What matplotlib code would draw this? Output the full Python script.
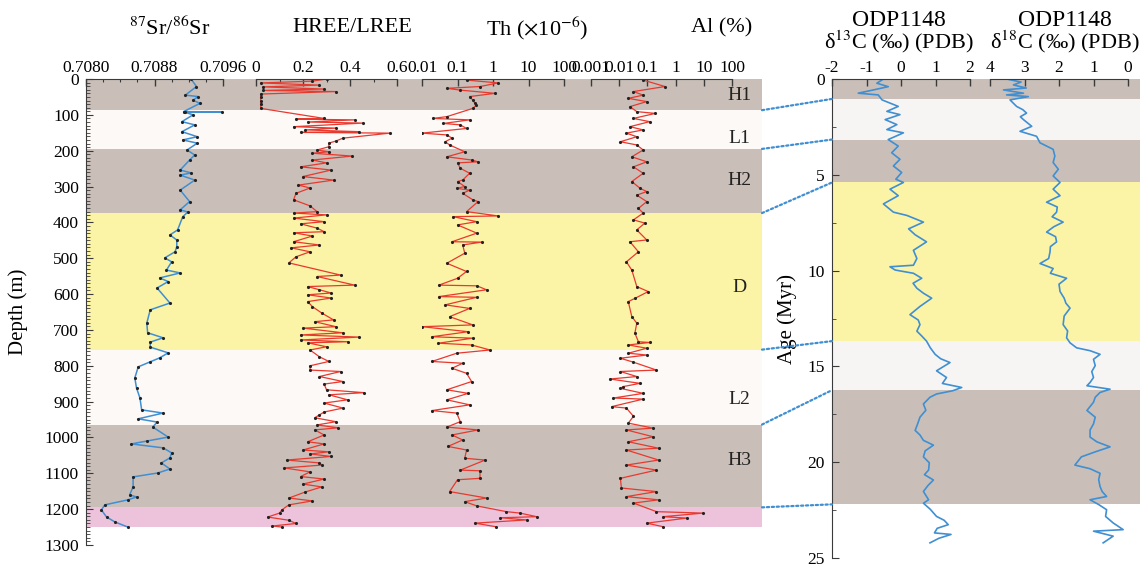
import matplotlib
matplotlib.use("Agg")
import matplotlib.pyplot as plt
from matplotlib.patches import ConnectionPatch
from matplotlib import transforms
from matplotlib.ticker import MultipleLocator, LogLocator, NullFormatter

plt.rcParams['font.family'] = ['Liberation Serif', 'DejaVu Serif']
plt.rcParams['mathtext.fontset'] = 'stix'
plt.rcParams['axes.unicode_minus'] = False

# ---- data ----
sr_depth = [1, 21, 45, 49, 59, 68, 91, 92, 93, 100,
            119, 128, 147, 161, 170, 179, 198, 212, 226, 254,
            262, 268, 282, 310, 342, 365, 371, 384, 421, 435,
            449, 468, 482, 499, 510, 533, 541, 555, 565, 583,
            625, 644, 681, 708, 722, 734, 748, 764, 778, 789,
            803, 834, 862, 890, 923, 932, 948, 957, 971, 999,
            1010, 1018, 1029, 1043, 1057, 1071, 1088, 1099, 1110, 1138,
            1160, 1166, 1174, 1188, 1202, 1222, 1236, 1250]
sr_value = [0.70923, 0.70929, 0.70916, 0.70931, 0.70925, 0.70933, 0.70914, 0.70959, 0.70916, 0.70925,
            0.70912, 0.70927, 0.70912, 0.70930, 0.70913, 0.70930, 0.70918, 0.70927, 0.70921, 0.70910,
            0.70923, 0.70910, 0.70927, 0.70910, 0.70921, 0.70910, 0.70919, 0.70913, 0.70907, 0.70898,
            0.70906, 0.70906, 0.70904, 0.70892, 0.70900, 0.70894, 0.70910, 0.70886, 0.70896, 0.70883,
            0.70898, 0.70875, 0.70871, 0.70872, 0.70890, 0.70875, 0.70875, 0.70896, 0.70886, 0.70875,
            0.70861, 0.70857, 0.70859, 0.70863, 0.70865, 0.70890, 0.70861, 0.70883, 0.70878, 0.70896,
            0.70871, 0.70853, 0.70890, 0.70900, 0.70898, 0.70888, 0.70898, 0.70884, 0.70855, 0.70855,
            0.70851, 0.70859, 0.70849, 0.70822, 0.70818, 0.70824, 0.70834, 0.70849]

ree_depth = [0, 6, 11, 17, 22, 28, 32, 35, 42, 50,
             61, 70, 82, 110, 112, 114, 120, 123, 133, 137,
             142, 147, 149, 151, 165, 173, 179, 189, 198, 203,
             207, 215, 226, 234, 245, 254, 272, 282, 296, 304,
             319, 337, 354, 370, 374, 379, 388, 398, 404, 416,
             426, 429, 438, 454, 463, 471, 482, 496, 513, 547,
             551, 575, 579, 588, 597, 602, 611, 621, 635, 653,
             672, 677, 691, 695, 708, 714, 720, 728, 733, 736,
             747, 756, 775, 788, 800, 812, 816, 830, 844, 851,
             867, 875, 881, 895, 904, 918, 929, 937, 945, 956,
             965, 973, 979, 993, 1012, 1018, 1035, 1040, 1046, 1053,
             1063, 1071, 1077, 1085, 1096, 1109, 1116, 1130, 1138, 1152,
             1169, 1177, 1188, 1202, 1211, 1222, 1231, 1240, 1247, 1250]
ree_value = [0.30, 0.24, 0.02, 0.27, 0.03, 0.29, 0.03, 0.34, 0.02, 0.02,
             0.02, 0.02, 0.02, 0.29, 0.17, 0.42, 0.22, 0.455, 0.16, 0.34,
             0.21, 0.44, 0.19, 0.57, 0.37, 0.34, 0.31, 0.31, 0.26, 0.31,
             0.24, 0.41, 0.24, 0.30, 0.19, 0.32, 0.20, 0.33, 0.18, 0.23,
             0.17, 0.16, 0.23, 0.26, 0.16, 0.30, 0.16, 0.29, 0.19, 0.26,
             0.29, 0.16, 0.24, 0.16, 0.27, 0.15, 0.23, 0.17, 0.14, 0.36,
             0.26, 0.42, 0.22, 0.27, 0.32, 0.22, 0.32, 0.22, 0.24, 0.28,
             0.33, 0.25, 0.34, 0.20, 0.37, 0.19, 0.44, 0.19, 0.39, 0.22,
             0.30, 0.23, 0.27, 0.31, 0.23, 0.23, 0.36, 0.27, 0.37, 0.29,
             0.30, 0.46, 0.31, 0.39, 0.29, 0.37, 0.29, 0.27, 0.25, 0.34,
             0.26, 0.35, 0.25, 0.29, 0.22, 0.29, 0.20, 0.31, 0.23, 0.32,
             0.13, 0.27, 0.28, 0.12, 0.23, 0.19, 0.29, 0.20, 0.28, 0.21,
             0.14, 0.24, 0.14, 0.11, 0.10, 0.05, 0.14, 0.17, 0.07, 0.11]

th_depth = [3, 11, 21, 26, 31, 40, 49, 59, 68, 73,
            82, 105, 110, 114, 124, 128, 138, 151, 156, 165,
            175, 184, 203, 217, 226, 231, 234, 249, 263, 282,
            286, 300, 305, 310, 319, 337, 342, 370, 382, 384,
            398, 407, 430, 454, 455, 463, 486, 514, 537, 556,
            575, 577, 588, 607, 609, 630, 640, 663, 686, 691,
            705, 719, 723, 737, 742, 756, 765, 788, 793, 807,
            821, 844, 867, 877, 895, 909, 925, 932, 956, 971,
            979, 993, 1007, 1025, 1035, 1058, 1063, 1091, 1093, 1114,
            1118, 1151, 1169, 1179, 1191, 1207, 1211, 1221, 1224, 1230,
            1239, 1249]
th_value = [0.18, 1.4, 0.43, 0.05, 0.12, 1.15, 0.22, 0.27, 0.31, 0.34,
            0.27, 0.05, 0.02, 0.22, 0.04, 0.12, 0.18, 0.01, 0.05, 0.07,
            0.045, 0.06, 0.16, 0.05, 0.25, 0.38, 0.10, 0.12, 0.22, 0.14,
            0.10, 0.16, 0.095, 0.22, 0.14, 0.27, 0.38, 0.18, 1.4, 0.075,
            0.35, 0.10, 0.35, 0.07, 0.48, 0.14, 0.16, 0.05, 0.18, 0.10,
            0.03, 0.35, 0.66, 0.03, 0.35, 0.045, 0.22, 0.06, 0.27, 0.01,
            0.20, 0.019, 0.27, 0.029, 0.25, 0.83, 0.095, 0.019, 0.14, 0.07,
            0.18, 0.25, 0.05, 0.20, 0.05, 0.22, 0.019, 0.095, 0.12, 0.05,
            0.38, 0.07, 0.14, 0.054, 0.18, 0.16, 0.60, 0.12, 0.43, 0.43,
            0.10, 0.06, 0.66, 0.16, 0.35, 2.4, 5.8, 17.0, 1.6, 8.9,
            0.31, 1.2]

al_depth = [3, 21, 35, 45, 54, 63, 77, 91, 96, 110,
            119, 133, 142, 151, 161, 175, 184, 198, 217, 231,
            245, 263, 286, 305, 314, 324, 342, 361, 374, 393,
            402, 421, 449, 454, 482, 510, 533, 579, 593, 612,
            621, 663, 681, 709, 733, 735, 742, 751, 765, 770,
            779, 790, 812, 816, 830, 837, 849, 858, 863, 877,
            890, 893, 914, 918, 941, 960, 974, 979, 998, 1012,
            1030, 1035, 1063, 1077, 1091, 1114, 1141, 1151, 1165, 1174,
            1183, 1207, 1211, 1221, 1225, 1239, 1249]
al_value = [0.071, 0.42, 0.032, 0.071, 0.021, 0.095, 0.024, 0.042, 0.19, 0.032,
            0.12, 0.024, 0.071, 0.018, 0.042, 0.011, 0.042, 0.071, 0.028, 0.095,
            0.032, 0.071, 0.028, 0.055, 0.095, 0.042, 0.095, 0.048, 0.071, 0.032,
            0.081, 0.042, 0.095, 0.024, 0.048, 0.018, 0.028, 0.042, 0.107, 0.036,
            0.021, 0.028, 0.042, 0.036, 0.048, 0.12, 0.021, 0.095, 0.021, 0.095,
            0.011, 0.032, 0.21, 0.011, 0.042, 0.0047, 0.055, 0.014, 0.011, 0.071,
            0.0062, 0.071, 0.0054, 0.018, 0.032, 0.021, 0.16, 0.018, 0.16, 0.021,
            0.25, 0.018, 0.25, 0.018, 0.21, 0.011, 0.012, 0.21, 0.018, 0.25,
            0.032, 0.21, 9.6, 0.36, 2.5, 0.095, 0.36]

c13_age = [0.00, 0.22, 0.40, 0.57, 0.74, 0.83, 1.09, 1.43, 1.69, 1.86,
           2.12, 2.38, 2.64, 2.81, 3.16, 3.50, 3.85, 4.19, 4.54, 4.88,
           5.23, 5.40, 5.75, 6.09, 6.52, 6.95, 7.12, 7.47, 7.82, 8.13,
           8.50, 8.94, 9.37, 9.72, 9.80, 9.97, 10.14, 10.40, 10.66, 10.92,
           11.18, 11.44, 11.87, 12.30, 12.58, 12.82, 13.16, 13.41, 13.68, 14.03,
           14.37, 14.60, 14.80, 15.23, 15.58, 15.89, 16.10, 16.27, 16.44, 16.61,
           16.96, 17.29, 17.65, 18.01, 18.34, 18.58, 18.86, 19.11, 19.41, 19.72,
           20.03, 20.41, 20.65, 20.93, 21.22, 21.53, 21.96, 22.14, 22.46, 22.83,
           23.03, 23.26, 23.45, 23.69, 23.77, 23.97, 24.21]
c13_value = [-0.51, -0.70, -0.37, -0.80, -1.24, -0.66, -0.55, -0.08, -0.41, -0.03,
             -0.46, -0.12, -0.41, 0.07, -0.37, -0.08, -0.27, -0.03, -0.22, 0.02,
             -0.15, 0.07, -0.32, -0.08, -0.51, -0.22, 0.17, 0.65, 0.22, 0.41,
             0.74, 0.36, 0.46, 0.36, -0.32, -0.17, 0.36, 0.60, 0.35, 0.46,
             0.65, 0.89, 0.55, 0.26, 0.50, 0.55, 0.46, 0.60, 0.74, 0.85,
             0.99, 1.15, 1.42, 1.03, 1.32, 1.20, 1.76, 1.50, 1.03, 0.84,
             0.65, 0.72, 0.55, 0.48, 0.41, 0.55, 0.65, 0.94, 0.70, 0.65,
             0.82, 0.80, 0.68, 0.94, 0.78, 0.65, 0.80, 0.65, 0.85, 1.03,
             1.25, 1.37, 1.05, 0.97, 1.45, 1.10, 0.84]

o18_age = [0.00, 0.16, 0.31, 0.47, 0.57, 0.74, 0.83, 0.92, 1.09, 1.43,
           1.60, 1.78, 1.97, 2.12, 2.47, 2.73, 2.99, 3.33, 3.67, 4.02,
           4.36, 4.71, 5.06, 5.40, 5.75, 6.09, 6.43, 6.68, 6.95, 7.19,
           7.47, 7.71, 7.99, 8.23, 8.50, 8.75, 9.02, 9.37, 9.63, 9.89,
           10.14, 10.40, 10.71, 11.09, 11.44, 11.70, 11.96, 12.37, 12.82, 13.15,
           13.51, 13.77, 14.03, 14.18, 14.37, 14.63, 14.96, 15.27, 15.58, 15.84,
           16.01, 16.19, 16.36, 16.61, 16.87, 17.30, 17.65, 18.00, 18.32, 18.69,
           18.94, 19.20, 19.46, 19.72, 20.15, 20.34, 20.58, 20.91, 21.27, 21.53,
           21.79, 21.96, 22.21, 22.48, 22.83, 23.17, 23.52, 23.60, 23.86, 24.21]
o18_value = [3.52, 3.10, 3.32, 2.95, 3.61, 3.03, 3.52, 2.89, 3.42, 3.23,
             3.05, 2.94, 3.12, 3.03, 2.79, 3.13, 2.65, 2.55, 2.17, 2.12,
             2.17, 2.02, 2.17, 1.97, 2.17, 1.97, 2.36, 2.05, 2.07, 2.20,
             1.88, 2.15, 2.36, 2.10, 2.07, 2.25, 2.26, 2.30, 2.55, 2.17,
             2.25, 1.78, 2.00, 1.97, 1.85, 1.80, 1.68, 1.85, 1.88, 1.75,
             1.78, 1.68, 1.49, 1.10, 0.81, 1.00, 0.95, 1.05, 1.00, 1.10,
             1.19, 0.52, 0.81, 0.95, 1.00, 1.19, 0.95, 1.00, 1.10, 1.10,
             0.90, 0.52, 0.95, 1.35, 1.54, 1.10, 0.81, 0.85, 0.81, 0.75,
             0.62, 1.10, 0.85, 0.62, 0.65, 0.43, 0.14, 1.00, 0.43, 0.72]

# stratigraphic units (depth, m) and matching age bands (Myr)
unit_names = ['H1', 'L1', 'H2', 'D', 'L2', 'H3']
unit_top = [0, 87, 195, 374, 755, 964, 1195]
unit_base = [87, 195, 374, 755, 964, 1195, 1250]
unit_label_depth = [47, 165, 282, 583, 895, 1063]
age_top = [0, 1.04, 3.16, 5.4, 13.68, 16.24]
age_base = [1.04, 3.16, 5.4, 13.68, 16.24, 22.2]

GREY = '#c9bfb8'
LIGHT = '#fdf9f7'
YELLOW = '#fbf4a7'
PINK = '#edc3dc'
unit_colors = [GREY, LIGHT, GREY, YELLOW, LIGHT, GREY, PINK]
age_colors = [GREY, '#f7f5f3', GREY, YELLOW, '#f7f5f3', GREY]

BLUE = '#3f8fd2'
RED = '#e8392f'
AX = '#3a3a3a'
TICK_FS = 12.5

W, H = 1146, 569
fig = plt.figure(figsize=(W / 100, H / 100), dpi=100)


def px_axes(x0, y0, x1, y1):
    return fig.add_axes([x0 / W, 1 - y1 / H, (x1 - x0) / W, (y1 - y0) / H])


def top_axis(ax):
    for s in ['left', 'right', 'bottom']:
        ax.spines[s].set_visible(False)
    ax.spines['top'].set_color(AX)
    ax.patch.set_alpha(0)
    ax.xaxis.tick_top()
    ax.set_yticks([])
    ax.tick_params(axis='x', which='major', direction='in', length=5, width=1,
                   color=AX, labelsize=TICK_FS, pad=2)
    ax.tick_params(axis='x', which='minor', direction='in', length=2.5, width=0.8, color=AX)


# ---- left panel: depth ----
axL = px_axes(86, 79, 762, 545)
axL.set_xlim(0, 1)
axL.set_ylim(1300, 0)
for top, base, c in zip(unit_top, unit_base, unit_colors):
    axL.axhspan(top, base, color=c, lw=0, zorder=0)
for name, d in zip(unit_names, unit_label_depth):
    axL.text(0.967, d, name, ha='center', va='center', fontsize=14, color='#222222')
for s in ['top', 'right', 'bottom']:
    axL.spines[s].set_visible(False)
axL.spines['left'].set_color(AX)
axL.set_xticks([])
axL.yaxis.set_major_locator(MultipleLocator(100))
axL.yaxis.set_minor_locator(MultipleLocator(10))
axL.tick_params(axis='y', which='major', direction='in', length=5, color=AX, labelsize=TICK_FS, pad=5)
axL.tick_params(axis='y', which='minor', direction='in', length=3, color=AX)
axL.set_ylabel('Depth (m)', fontsize=15, labelpad=12)

ax_sr = px_axes(86, 79, 223, 545)
ax_sr.plot(sr_value, sr_depth, color=BLUE, lw=1.1, marker='.', ms=2.5, mfc='#222', mec='#222')
ax_sr.set_xlim(0.7080, 0.7096)
ax_sr.set_ylim(1300, 0)
top_axis(ax_sr)
ax_sr.set_xticks([0.7080, 0.7088, 0.7096])
ax_sr.set_xticklabels(['0.7080', '0.7088', '0.7096'])
ax_sr.xaxis.set_minor_locator(MultipleLocator(0.0002))

ax_ree = px_axes(256, 79, 397, 545)
ax_ree.plot(ree_value, ree_depth, color=RED, lw=0.9, marker='.', ms=2.5, mfc='#222', mec='#222')
ax_ree.set_xlim(0, 0.6)
ax_ree.set_ylim(1300, 0)
top_axis(ax_ree)
ax_ree.set_xticks([0, 0.2, 0.4, 0.6])
ax_ree.set_xticklabels(['0', '0.2', '0.4', '0.6'])
ax_ree.xaxis.set_minor_locator(MultipleLocator(0.1))

ax_th = px_axes(422, 79, 564, 545)
ax_th.plot(th_value, th_depth, color=RED, lw=0.9, marker='.', ms=2.5, mfc='#222', mec='#222')
ax_th.set_xscale('log')
ax_th.set_xlim(0.01, 100)
ax_th.set_ylim(1300, 0)
top_axis(ax_th)
ax_th.set_xticks([0.01, 0.1, 1, 10, 100])
ax_th.set_xticklabels(['0.01', '0.1', '1', '10', '100'])
ax_th.xaxis.set_minor_locator(LogLocator(base=10, subs=range(2, 10)))
ax_th.xaxis.set_minor_formatter(NullFormatter())

ax_al = px_axes(591, 79, 732, 545)
ax_al.plot(al_value, al_depth, color=RED, lw=0.9, marker='.', ms=2.5, mfc='#222', mec='#222')
ax_al.set_xscale('log')
ax_al.set_xlim(0.001, 100)
ax_al.set_ylim(1300, 0)
top_axis(ax_al)
ax_al.set_xticks([0.001, 0.01, 0.1, 1, 10, 100])
ax_al.set_xticklabels(['0.001', '0.01', '0.1', '1', '10', '100'])
ax_al.xaxis.set_minor_locator(LogLocator(base=10, subs=range(2, 10)))
ax_al.xaxis.set_minor_formatter(NullFormatter())

# ---- right panel: age ----
axR = px_axes(832, 79, 1140, 558)
axR.set_xlim(0, 1)
axR.set_ylim(25, 0)
for top, base, c in zip(age_top, age_base, age_colors):
    axR.axhspan(top, base, color=c, lw=0, zorder=0)
for s in ['top', 'right', 'bottom']:
    axR.spines[s].set_visible(False)
axR.spines['left'].set_color(AX)
axR.set_xticks([])
axR.yaxis.set_major_locator(MultipleLocator(5))
axR.yaxis.set_minor_locator(MultipleLocator(2.5))
axR.tick_params(axis='y', which='major', direction='in', length=5, color=AX, labelsize=TICK_FS, pad=5)
axR.tick_params(axis='y', which='minor', direction='in', length=3, color=AX)
axR.set_ylabel('Age (Myr)', fontsize=15, labelpad=8)

ax_c = px_axes(832, 79, 970, 558)
ax_c.plot(c13_value, c13_age, color=BLUE, lw=1.2)
ax_c.set_xlim(-2, 2)
ax_c.set_ylim(25, 0)
top_axis(ax_c)
ax_c.set_xticks([-2, -1, 0, 1, 2])

ax_o = px_axes(990, 79, 1128, 558)
ax_o.plot(o18_value, o18_age, color=BLUE, lw=1.2)
ax_o.set_xlim(4, 0)
ax_o.set_ylim(25, 0)
top_axis(ax_o)
ax_o.set_xticks([4, 3, 2, 1, 0])


# ---- titles ----
def ftext(x, y, s, size=16):
    fig.text(x / W, 1 - y / H, s, ha='center', va='center', fontsize=size)


ftext(170, 28, r'$^{87}$Sr/$^{86}$Sr')
ftext(352, 28, 'HREE/LREE')
ftext(537, 28, r'Th ($\times$10$^{-6}$)')
ftext(722, 28, 'Al (%)')
ftext(899, 20, 'ODP1148', 17)
ftext(899, 42, r'δ$^{13}$C (‰) (PDB)', 16)
ftext(1065, 20, 'ODP1148', 17)
ftext(1065, 42, r'δ$^{18}$C (‰) (PDB)', 16)

# ---- dotted links between the depth units and the age bands ----
trL = transforms.blended_transform_factory(axL.transAxes, axL.transData)
trR = transforms.blended_transform_factory(axR.transAxes, axR.transData)
for d, a in zip(unit_base[:6], age_base):
    con = ConnectionPatch(xyA=(1, d), coordsA=trL, xyB=(0, a), coordsB=trR,
                          color=BLUE, lw=1.6, linestyle=(0, (1, 1.2)))
    fig.add_artist(con)

fig.savefig('out.png', dpi=100)
